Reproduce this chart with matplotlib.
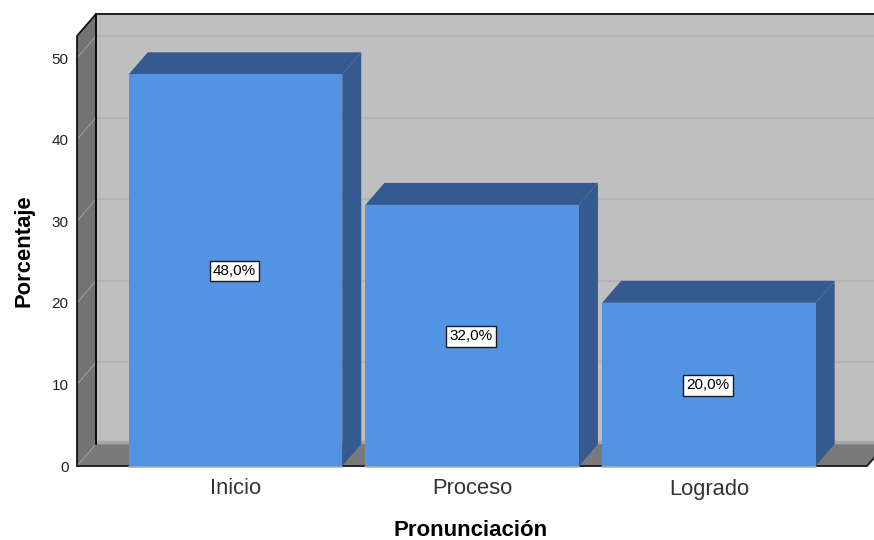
#!/usr/bin/env python3
import matplotlib
matplotlib.use('Agg')
import matplotlib.pyplot as plt

categorias = ['Inicio', 'Proceso', 'Logrado']
porcentajes = [48.0, 32.0, 20.0]
etiquetas = ['48,0%', '32,0%', '20,0%']
y_ticks = [0, 10, 20, 30, 40, 50]

plt.rcParams['font.family'] = ['Liberation Sans', 'DejaVu Sans']

W, H = 874, 540
fig = plt.figure(figsize=(W / 100, H / 100), dpi=100)
# front plane of the 3d box, in pixels
left, right, top, bottom = 77, 867, 36, 466
ax = fig.add_axes([left / W, 1 - bottom / H, (right - left) / W, (bottom - top) / H])

px_y = 8.16    # pixels per percent
px_x = 236.7   # pixels per category
x0 = (left - 235.5) / px_x
x1 = (right - 235.5) / px_x
y1 = (bottom - top) / px_y
ax.set_xlim(x0, x1)
ax.set_ylim(0, y1)

dx = 19 / px_x
dy = 22 / px_y
ancho = 0.902

azul = '#5293e4'
azul_osc = '#345a8f'

# back wall, side wall, floor
ax.fill([x0 + dx, x1 + dx, x1 + dx, x0 + dx], [dy, dy, y1 + dy, y1 + dy], color='#bfbfbf', lw=0, clip_on=False, zorder=1)
ax.fill([x0, x0 + dx, x0 + dx, x0], [0, dy, y1 + dy, y1], color='#737373', lw=0, clip_on=False, zorder=1)
ax.fill([x0, x1, x1 + dx, x0 + dx], [0, 0, dy, dy], color='#7a7a7a', lw=0, clip_on=False, zorder=1)
ax.plot([x0 + dx, x1 + dx], [dy + 0.2, dy + 0.2], color='#a6a6a6', lw=2.5, clip_on=False, zorder=1.5)

# gridlines on the walls
for t in y_ticks:
    ax.plot([x0, x0 + dx], [t, t + dy], color='#9a9a9a', lw=0.8, clip_on=False, zorder=2)
    if t > 0:
        ax.plot([x0 + dx, x1 + dx], [t + dy, t + dy], color='#b3b3b3', lw=1.5, clip_on=False, zorder=2)

# box outline
ax.plot([x0, x0, x0 + dx, x1 + dx], [0, y1, y1 + dy, y1 + dy], color='#111111', lw=1.3, clip_on=False, zorder=3)
ax.plot([x0 + dx, x0 + dx], [dy, y1 + dy], color='black', lw=1.3, clip_on=False, zorder=3)
ax.plot([x0, x1, x1 + dx], [0, 0, dy], color='#222222', lw=1.4, clip_on=False, zorder=3)

# bars
pos = range(len(categorias))
ax.bar(pos, porcentajes, width=ancho, color=azul, lw=0, zorder=5, clip_on=False)
for i, v in zip(pos, porcentajes):
    a, b = i - ancho / 2, i + ancho / 2
    ax.fill([a, b, b + dx, a + dx], [v, v, v + dy, v + dy], color=azul_osc, lw=0, zorder=4, clip_on=False)
    ax.fill([b, b + dx, b + dx, b], [0, dy, v + dy, v], color=azul_osc, lw=0, zorder=4, clip_on=False)
    ax.plot([a, b], [-0.1, -0.1], color='#b5b5b5', lw=1.2, zorder=4, clip_on=False)

for i, v, e in zip(pos, porcentajes, etiquetas):
    ax.text(i - 0.004, v / 2 - 0.1, e, ha='center', va='center', fontsize=11, color='black', zorder=6,
            bbox=dict(boxstyle='square,pad=0.22', fc='white', ec='#1a1a1a', lw=1))

for s in ax.spines.values():
    s.set_visible(False)
ax.set_xticks(list(pos))
ax.set_xticklabels(categorias, fontsize=15.8, color='#333333')
ax.set_yticks(y_ticks)
ax.set_yticklabels([str(t) for t in y_ticks], fontsize=11, color='#222222')
ax.tick_params(axis='both', length=0)
ax.tick_params(axis='x', pad=9)
ax.tick_params(axis='y', pad=6)
ax.patch.set_visible(False)

fig.text(471 / W, 1 - 531 / H, 'Pronunciación', fontsize=16, fontweight='bold', ha='center', va='center')
fig.text(24 / W, 1 - 251 / H, 'Porcentaje', fontsize=15.8, fontweight='bold', rotation=90, ha='center', va='center')

fig.savefig('out.png', dpi=100)
